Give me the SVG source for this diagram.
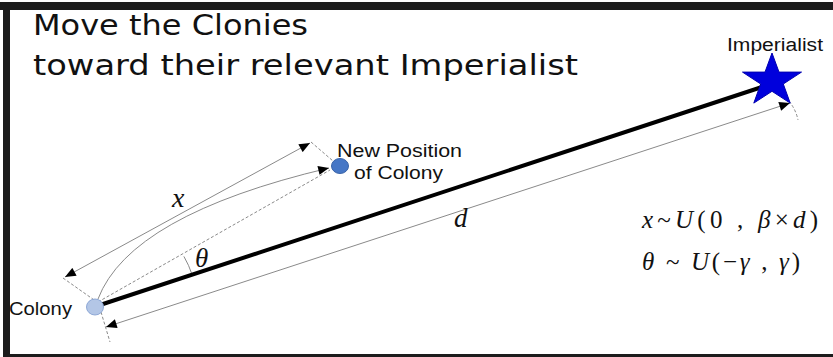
<svg xmlns="http://www.w3.org/2000/svg" width="833" height="357" viewBox="0 0 833 357">
<style>
.frame{fill:#1c1c1c}
.title{font-family:"DejaVu Sans",Verdana,sans-serif;font-size:27.5px;fill:#111}
.lbl{font-family:"Liberation Sans",Arial,sans-serif;font-size:18px;fill:#111}
.math{font-family:"Liberation Serif","Times New Roman",serif;font-size:25px;fill:#111}
.it{font-style:italic}
.dim{fill:none;stroke:#8a8a8a;stroke-width:1}
.dash{fill:none;stroke:#8a8a8a;stroke-width:1;stroke-dasharray:3 2}
.thick{fill:none;stroke:#000;stroke-width:4;stroke-linecap:round}
</style>
<defs>
<marker id="ah" viewBox="0 0 12 10" refX="12" refY="5" markerWidth="12" markerHeight="9" markerUnits="userSpaceOnUse" orient="auto-start-reverse">
<path d="M0,0 L12,5 L0,10 Z" fill="#000"/>
</marker>
</defs>
<rect width="833" height="357" fill="#fff"/>
<g id="frame">
<rect class="frame" x="0" y="2" width="833" height="8"/>
<rect class="frame" x="3" y="2" width="7" height="355"/>
<rect class="frame" x="3" y="354" width="830" height="3"/>
</g>
<g id="title">
<text class="title" x="33" y="35" textLength="275" lengthAdjust="spacingAndGlyphs">Move the Clonies</text>
<text class="title" x="33" y="75" textLength="545" lengthAdjust="spacingAndGlyphs">toward their relevant Imperialist</text>
</g>
<g id="connectors">
<path class="dash" d="M98,302 L330,170"/>
<path class="dash" d="M63,278 L97,302"/>
<path class="dash" d="M311,142 L333,161"/>
<path class="dash" d="M101,312 L110,342"/>
<path class="dash" d="M789,101 Q796,110 798,120"/>
<path class="dim" d="M98,299 Q130,215 329,168" marker-end="url(#ah)"/>
<path class="dim" d="M65,277 L310,143" marker-start="url(#ah)" marker-end="url(#ah)"/>
<path class="dim" d="M106,327 L790,103" marker-start="url(#ah)" marker-end="url(#ah)"/>
<path class="dim" d="M183.9,256.4 A97,97 0 0 1 192.1,274.7"/>
<path class="thick" d="M100,305 L762,87"/>
</g>
<g id="colony">
<ellipse cx="95" cy="307" rx="8.5" ry="8" fill="#b3c6e6" stroke="#8ea8d6" stroke-width="1"/>
<text class="lbl" x="9" y="315" textLength="63" lengthAdjust="spacingAndGlyphs">Colony</text>
</g>
<g id="new-position">
<ellipse cx="340" cy="166" rx="8.5" ry="7.5" fill="#4677c6" stroke="#3a64a8" stroke-width="1"/>
<text class="lbl" x="337" y="157" textLength="125" lengthAdjust="spacingAndGlyphs">New Position</text>
<text class="lbl" x="354" y="179" textLength="89" lengthAdjust="spacingAndGlyphs">of Colony</text>
</g>
<g id="imperialist">
<polygon points="772,53 779,72.1 801.5,72.1 783.3,84 790.2,103.1 772,91.3 753.8,103.1 760.7,84 742.5,72.1 765,72.1" fill="#0000dc" stroke="#0000b0" stroke-width="1"/>
<text class="lbl" x="727" y="51" textLength="96" lengthAdjust="spacingAndGlyphs">Imperialist</text>
</g>
<g id="labels">
<text class="math it" x="172" y="207" style="font-size:28px">x</text>
<text class="math it" x="195" y="267" style="font-size:27px">θ</text>
<text class="math it" x="454" y="227" style="font-size:27px">d</text>
<text class="math" x="642" y="228" textLength="176" lengthAdjust="spacing"><tspan class="it">x</tspan>~<tspan class="it">U</tspan>(0 , <tspan class="it">β</tspan>×<tspan class="it">d</tspan>)</text>
<text class="math" x="642" y="270" textLength="158" lengthAdjust="spacing"><tspan class="it">θ</tspan> ~ <tspan class="it">U</tspan>(−<tspan class="it">γ</tspan> , <tspan class="it">γ</tspan>)</text>
</g>
</svg>
